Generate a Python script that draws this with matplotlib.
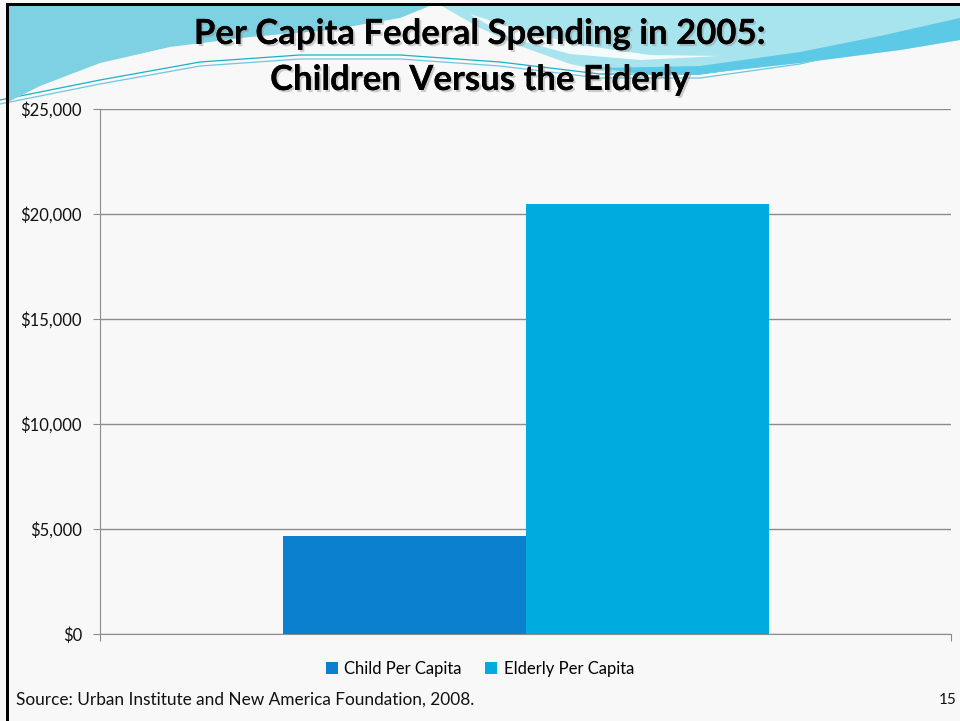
import numpy as np
import matplotlib.pyplot as plt
import matplotlib.patheffects as pe
from matplotlib.patches import Polygon, Rectangle
from matplotlib.ticker import FuncFormatter

# data
series_names = ["Child Per Capita", "Elderly Per Capita"]
series_values = [4680, 20480]
series_colors = ["#0b80cf", "#00acdf"]
y_ticks = [0, 5000, 10000, 15000, 20000, 25000]

plt.rcParams['font.family'] = ['Lato', 'DejaVu Sans']

fig = plt.figure(figsize=(9.6, 7.21), dpi=100)
fig.patch.set_facecolor("#f8f8f8")

# slide decoration (pixel coords -> figure coords)
W, H = 960.0, 721.0
def px(pts):
    return [(x / W, 1 - y / H) for x, y in pts]

def deco(pts, color, z=0):
    fig.patches.append(Polygon(px(pts), closed=True, transform=fig.transFigure,
                               facecolor=color, edgecolor="none", zorder=z))

deco([(8, 5), (432, 5), (400, 18), (330, 30), (250, 37), (170, 47),
      (100, 63), (40, 86), (8, 102)], "#7dd1e2")
deco([(440, 5), (960, 5), (960, 40), (900, 50), (800, 63), (700, 74),
      (620, 74), (570, 64), (520, 46), (480, 28)], "#a8e4ed")
# white streak in the pale area
deco([(470, 14), (520, 30), (580, 45), (650, 55), (720, 56), (640, 60),
      (570, 54), (510, 38)], "#f3fbfc")
# darker band on the right
deco([(600, 68), (700, 66), (800, 52), (880, 36), (960, 18),
      (960, 40), (900, 50), (800, 63), (700, 74), (640, 74)], "#5ccae6")

line_x = np.array([0, 100, 200, 300, 400, 500, 600, 700, 800, 900, 960])
line_y = np.array([100, 80, 62, 55, 55, 62, 74, 74, 60, 36, 10])
for dy, c in [(0, "#19b3c4"), (4, "#6fc6df")]:
    fig.add_artist(plt.Line2D(line_x / W, 1 - (line_y + dy) / H, color=c, lw=0.9,
                              transform=fig.transFigure, zorder=0))

# black slide frame on left and top
fig.patches.append(Rectangle((6 / W, 0), 3 / W, 1 - 3 / H, transform=fig.transFigure,
                             facecolor="black", edgecolor="none", zorder=1))
fig.patches.append(Rectangle((6 / W, 1 - 6 / H), 1, 3 / H, transform=fig.transFigure,
                             facecolor="black", edgecolor="none", zorder=1))

ax = fig.add_axes([100 / W, 1 - 634 / H, 851 / W, 525 / H])
ax.set_facecolor("none")

width = 243 / 851
offsets = [-width / 2, width / 2]
for name, val, col, off in zip(series_names, series_values, series_colors, offsets):
    ax.bar(off, val, width=width, color=col, label=name, zorder=3)

ax.set_xlim(-0.5, 0.5)
ax.set_ylim(0, 25000)
ax.set_yticks(y_ticks)
ax.yaxis.set_major_formatter(FuncFormatter(lambda v, p: "${:,.0f}".format(v)))
ax.grid(axis="y", color="#8c8c8c", lw=1.0, zorder=0)
ax.set_xticks([-0.5, 0.5])
ax.set_xticklabels(["", ""])
for s in ["top", "right"]:
    ax.spines[s].set_visible(False)
ax.spines["left"].set_color("#8c8c8c")
ax.spines["bottom"].set_color("#8c8c8c")
ax.tick_params(axis="y", colors="#8c8c8c", length=5, pad=8, labelsize=12, labelcolor="#111111")
ax.tick_params(axis="x", colors="#8c8c8c", length=5)

fig.legend(loc="center", bbox_to_anchor=(0.5, 1 - 669 / H), ncol=2, frameon=False,
           fontsize=12, handlelength=0.7, handleheight=0.7, handletextpad=0.4,
           columnspacing=1.4)

shadow = [pe.withSimplePatchShadow(offset=(1.5, -1.5), shadow_rgbFace="#888888", alpha=0.4),
          pe.Normal()]
fig.text(0.5, 1 - 34 / H, "Per Capita Federal Spending in 2005:", ha="center", va="center",
         fontsize=25, fontweight="bold", color="black", path_effects=shadow)
fig.text(0.5, 1 - 80 / H, "Children Versus the Elderly", ha="center", va="center",
         fontsize=25, fontweight="bold", color="black", path_effects=shadow)

fig.text(16 / W, 1 - 700 / H, "Source: Urban Institute and New America Foundation, 2008.",
         ha="left", va="center", fontsize=12.4, color="#111111")
fig.text(957 / W, 1 - 700 / H, "15", ha="right", va="center", fontsize=11, color="#111111")

fig.savefig("out.png", dpi=100, facecolor=fig.get_facecolor())
